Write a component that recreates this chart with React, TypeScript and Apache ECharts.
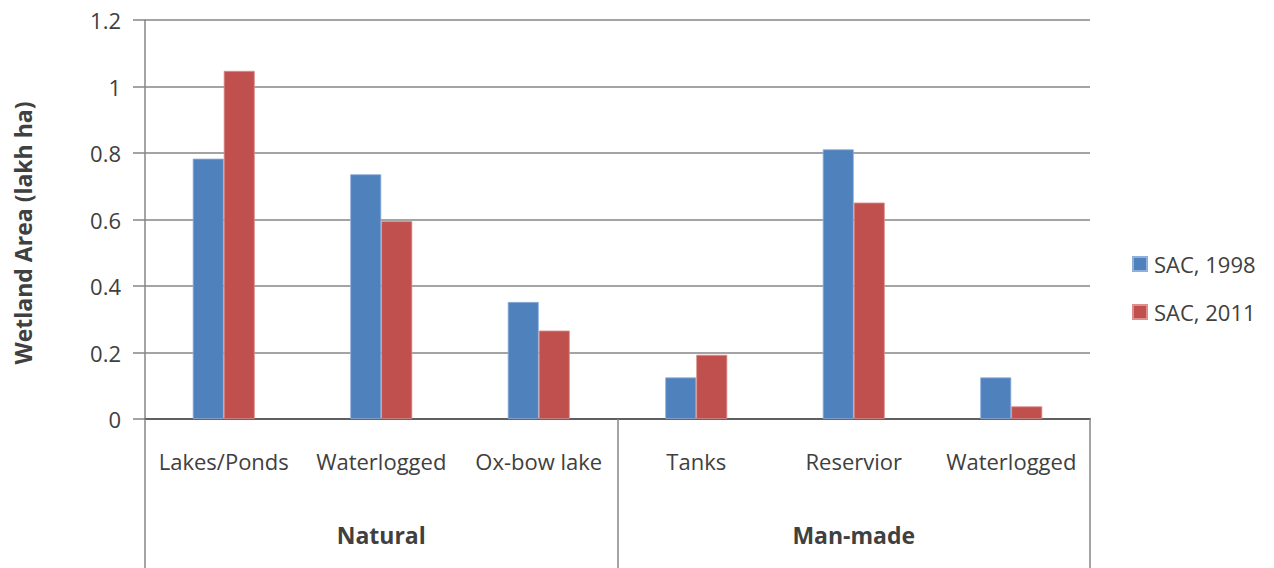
import React, { useEffect, useRef } from "react";
import * as echarts from "echarts";

const categories = ["Lakes/Ponds", "Waterlogged", "Ox-bow lake", "Tanks", "Reservior", "Waterlogged"];
const groups = ["Natural", "Man-made"];
const sac1998 = [0.783, 0.736, 0.352, 0.125, 0.811, 0.125];
const sac2011 = [1.047, 0.595, 0.266, 0.193, 0.651, 0.038];
const seriesNames = ["SAC, 1998", "SAC, 2011"];
const yTitle = "Wetland Area (lakh ha)";

const FONT = "'Open Sans', 'Liberation Sans', sans-serif";
const TXT = "#404040";
const LINE = "#868686";

export default function App() {
  const ref = useRef<HTMLDivElement>(null);
  useEffect(() => {
    if (!ref.current) return;
    const chart = echarts.init(ref.current, undefined, { renderer: "svg" });
    chart.setOption({
      animation: false,
      backgroundColor: "#ffffff",
      textStyle: { fontFamily: FONT, color: TXT },
      grid: { left: 145, right: 184, top: 20, bottom: 149, containLabel: false },
      legend: {
        orient: "vertical",
        left: 1127,
        top: 248,
        itemWidth: 14,
        itemHeight: 14,
        itemGap: 26,
        icon: "rect",
        textStyle: { fontFamily: FONT, fontSize: 22, color: TXT, padding: [0, 0, 0, 2] },
        data: seriesNames,
      },
      graphic: [
        {
          type: "text",
          x: 23,
          y: 233,
          rotation: Math.PI / 2,
          style: {
            text: yTitle,
            fontFamily: FONT,
            fontSize: 23,
            fontWeight: "bold",
            fill: TXT,
            align: "center",
            verticalAlign: "middle",
          },
        },
      ],
      xAxis: [
        {
          type: "category",
          data: categories,
          position: "bottom",
          axisLine: { show: true, lineStyle: { color: "#5f5f5f", width: 2 } },
          axisTick: { show: false },
          axisLabel: { interval: 0, margin: 31, fontSize: 22, color: TXT, fontFamily: FONT },
        },
        {
          type: "category",
          data: groups,
          position: "bottom",
          offset: 0,
          axisLine: { show: false },
          axisTick: { show: true, interval: 0, length: 150, lineStyle: { color: LINE, width: 1.5 } },
          axisLabel: { interval: 0, margin: 104, fontSize: 23, fontWeight: "bold", color: TXT, fontFamily: FONT },
        },
      ],
      yAxis: {
        type: "value",
        min: 0,
        max: 1.2,
        interval: 0.2,
        axisLine: { show: true, lineStyle: { color: LINE, width: 1.5 } },
        axisTick: { show: true, length: 12, lineStyle: { color: LINE, width: 1.5 } },
        axisLabel: {
          margin: 24,
          fontSize: 22,
          color: TXT,
          fontFamily: FONT,
          formatter: (v: number) => String(Math.round(v * 10) / 10),
        },
        splitLine: { show: true, lineStyle: { color: LINE, width: 1.5 } },
      },
      series: [
        {
          name: seriesNames[0],
          type: "bar",
          data: sac1998,
          barWidth: 31,
          barGap: "0%",
          itemStyle: { color: "#4F81BD", borderColor: "#8fb0da", borderWidth: 0.8 },
        },
        {
          name: seriesNames[1],
          type: "bar",
          data: sac2011,
          barWidth: 31,
          barGap: "0%",
          itemStyle: { color: "#C0504D", borderColor: "#dc8f8d", borderWidth: 0.8 },
        },
      ],
    });
    return () => chart.dispose();
  }, []);
  return <div ref={ref} style={{ width: 1274, height: 568, position: "absolute", left: 0, top: 0 }} />;
}
